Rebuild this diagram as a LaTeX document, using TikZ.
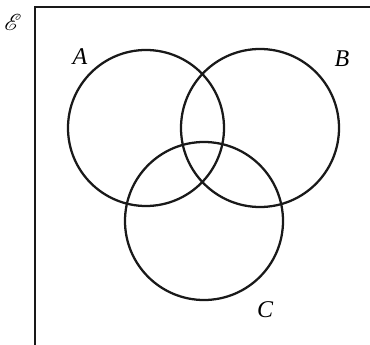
\documentclass[tikz,border=0pt]{standalone}
\usepackage{mathrsfs}
\usepackage{fontspec}
\setmainfont{Liberation Serif}
\begin{document}
\begin{tikzpicture}[x=0.75pt,y=-0.75pt,
  ln/.style={line width=1.7pt,black!90},
  lab/.style={font=\fontsize{18}{20}\selectfont\itshape,inner sep=0pt}]
\useasboundingbox (0,0) rectangle (370,345);
\clip (0,0) rectangle (370,345);
\draw[ln] (35,7) rectangle (390,365);
\node[inner sep=0pt,font=\fontsize{17}{19}\selectfont] (U) at (13,22) {$\mathscr{E}$};
\draw[ln] (146,128) circle (78);
\draw[ln] (260,128) circle (79);
\draw[ln] (204,221) circle (79);
\node[lab] (A) at (80,57) {A};
\node[lab] (B) at (342,59) {B};
\node[lab] (C) at (265,310) {C};
\end{tikzpicture}
\end{document}
